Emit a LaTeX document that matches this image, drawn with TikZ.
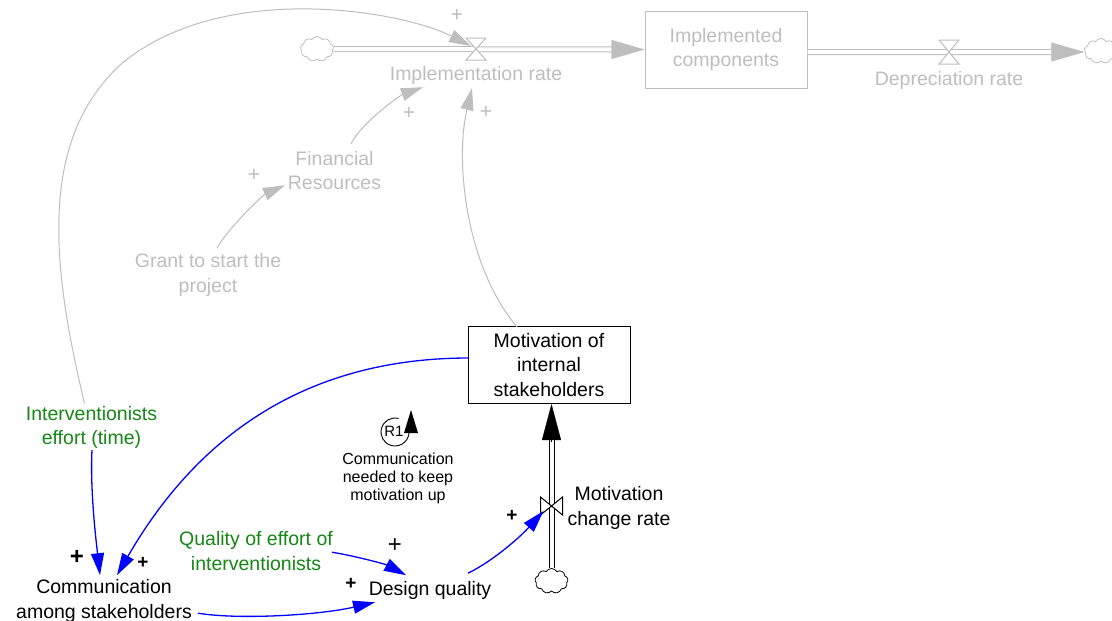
\documentclass[tikz,border=0pt]{standalone}
\usepackage{fontspec}
\setmainfont{Liberation Sans}
\usetikzlibrary{arrows.meta,shapes.symbols,calc}
\definecolor{lg}{RGB}{190,190,190}
\definecolor{grn}{RGB}{20,135,20}
\definecolor{blu}{RGB}{0,0,255}
\begin{document}
\begin{tikzpicture}[x=1pt,y=-1pt,
 tfont/.style={align=center,font=\fontsize{19.5}{24.5}\selectfont,inner sep=0pt},
 txt/.style={tfont,yshift=-2.2pt},
 small/.style={align=center,font=\fontsize{16}{18}\selectfont,inner sep=0pt},
 stockbox/.style={draw,minimum width=162pt,minimum height=77pt,tfont,line width=1pt},
 cloudy/.style={cloud,cloud puffs=9,cloud puff arc=120,cloud ignores aspect,minimum width=33pt,minimum height=25pt,inner sep=0pt,draw,line width=0.8pt},
 pipe/.style={double distance=4pt,line width=1pt},
 glink/.style={lg,line width=1pt,-{Triangle[length=22pt,width=13pt]}},
 blink/.style={blu,line width=1.3pt,-{Triangle[length=22pt,width=13pt]}},
 plus/.style={font=\fontsize{21}{21}\selectfont,inner sep=0pt},
]
\useasboundingbox[fill=white] (0,0) rectangle (1112,621);

% ---- top stock-flow (grey)
\node[cloudy,draw=lg] (cl) at (317,49) {};
\coordinate (v1) at (476,49);
\node[txt,text=lg] (irate) at (476,73) {Implementation rate};
\node[stockbox,draw=lg,text=lg] (impl) at (726,49.5) {Implemented\\components};
\coordinate (v2) at (949,52);
\node[txt,text=lg] (drate) at (949,78) {Depreciation rate};
\node[cloudy,draw=lg] (cr) at (1101,51) {};

\draw[pipe,draw=lg,double=white] (cl.east) -- ([shift={(-30,0)}]impl.west);
\draw[lg,-{Triangle[length=33pt,width=19pt]}] ([shift={(-32,0)}]impl.west) -- (impl.west);
\draw[pipe,draw=lg,double=white] ([shift={(0,2.5)}]impl.east) -- ([shift={(-30,1)}]cr.west);
\draw[lg,-{Triangle[length=33pt,width=19pt]}] ([shift={(-32,1)}]cr.west) -- ([shift={(0,1)}]cr.west);

\draw[lg,fill=white,line width=1pt] ([shift={(-10,-11)}]v1) -- ([shift={(10,-11)}]v1) -- ([shift={(-10,11)}]v1) -- ([shift={(10,11)}]v1) -- cycle;
\draw[lg,fill=white,line width=1pt] ([shift={(-10,-12)}]v2) -- ([shift={(10,-12)}]v2) -- ([shift={(-10,12)}]v2) -- ([shift={(10,12)}]v2) -- cycle;

% ---- grey auxiliaries
\node[txt,text=lg] (fin) at (334.5,168.5) {Financial\\Resources};
\node[txt,text=lg] (grant) at (208,273) {Grant to start the\\project};

% ---- motivation stock
\node[stockbox] (mot) at (549,365) {Motivation of\\internal\\stakeholders};
\coordinate (v3) at (551.5,506);
\node[cloudy] (cb) at (551.5,581) {};
\draw[pipe,draw=black,double=white] (cb.north) -- ([shift={(2.5,36)}]mot.south);
\draw[-{Triangle[length=36pt,width=19pt]}] ([shift={(2.5,38)}]mot.south) -- ([shift={(2.5,0)}]mot.south);
\draw[fill=white,line width=1pt] ([shift={(-11,-9)}]v3) -- ([shift={(-11,9)}]v3) -- ([shift={(11,-9)}]v3) -- ([shift={(11,9)}]v3) -- cycle;
\node[txt] (mcr) at (619,506) {Motivation\\change rate};

% ---- other variables
\node[txt,text=grn] (interv) at (91.5,425) {Interventionists\\effort (time)};
\node[txt,text=grn] (qual) at (256,549) {Quality of effort of\\interventionists};
\node[txt] (comm) at (104,599) {Communication\\among stakeholders};
\node[txt] (dq) at (430,588) {Design quality};

% ---- loop marker
\node[small] (loopt) at (398,478) {Communication\\needed to keep\\motivation up};
\node[font=\fontsize{15}{15}\selectfont,inner sep=0pt] (r1) at (394,431) {R1};
\coordinate (r1c) at (395,432);
\draw[line width=0.9pt] (r1c) ++(-75:14) arc[start angle=-75,end angle=-360,radius=14];
\fill ([shift={(10,2)}]r1.center) -- ([shift={(24,2)}]r1.center) -- ([shift={(17,-21)}]r1.center) -- cycle;

% ---- grey links
\draw[glink] ([shift={(-7,-24)}]interv.center) .. controls (50,260) and (40,140) .. (120,65) .. controls (220,-20) and (400,10) .. ([shift={(-5,-3)}]v1);
\draw[glink] ([shift={(16.5,-27)}]fin.center) .. controls (363,121) and (401,95) .. ([shift={(-53,12)}]irate.center);
\draw[glink] ([shift={(9,-27)}]grant.center) .. controls (228,228) and (263,195) .. ([shift={(-49.5,14.5)}]fin.center);
\draw[glink] ([shift={(-32,-38)}]mot.center) .. controls (465,265) and (455,160) .. ([shift={(-4,13)}]irate.center);

% ---- blue links
\draw[blink] ([shift={(0.5,23)}]interv.center) .. controls (90,490) and (96,540) .. ([shift={(-4,-26)}]comm.center);
\draw[blink] ([shift={(-80,-7)}]mot.center) .. controls (307,358) and (198,435) .. ([shift={(13,-26)}]comm.center);
\draw[blink] ([shift={(76,1)}]qual.center) .. controls (355,556) and (385,564) .. ([shift={(-24,-15)}]dq.center);
\draw[blink] ([shift={(94,12)}]comm.center) .. controls (240,620) and (320,615) .. ([shift={(-55,12)}]dq.center);
\draw[blink] ([shift={(38,-17)}]dq.center) .. controls (495,560) and (522,535) .. ([shift={(-8,5)}]v3);

% ---- polarity signs
\node[plus,text=lg] (p1) at (457,15) {+};
\node[plus,text=lg] (p2) at (409,113) {+};
\node[plus,text=lg] (p3) at (486,112) {+};
\node[plus,text=lg] (p4) at (254,175) {+};
\node[font=\fontsize{24}{24}\bfseries\selectfont,inner sep=0pt] (p5) at (77,557) {+};
\node[font=\fontsize{19}{19}\bfseries\selectfont,inner sep=0pt] (p6) at (143,563) {+};
\node[font=\fontsize{24}{24}\selectfont,inner sep=0pt] (p7) at (395,546) {+};
\node[font=\fontsize{19}{19}\bfseries\selectfont,inner sep=0pt] (p8) at (351,584) {+};
\node[font=\fontsize{19}{19}\bfseries\selectfont,inner sep=0pt] (p9) at (512,516) {+};
\end{tikzpicture}
\end{document}
